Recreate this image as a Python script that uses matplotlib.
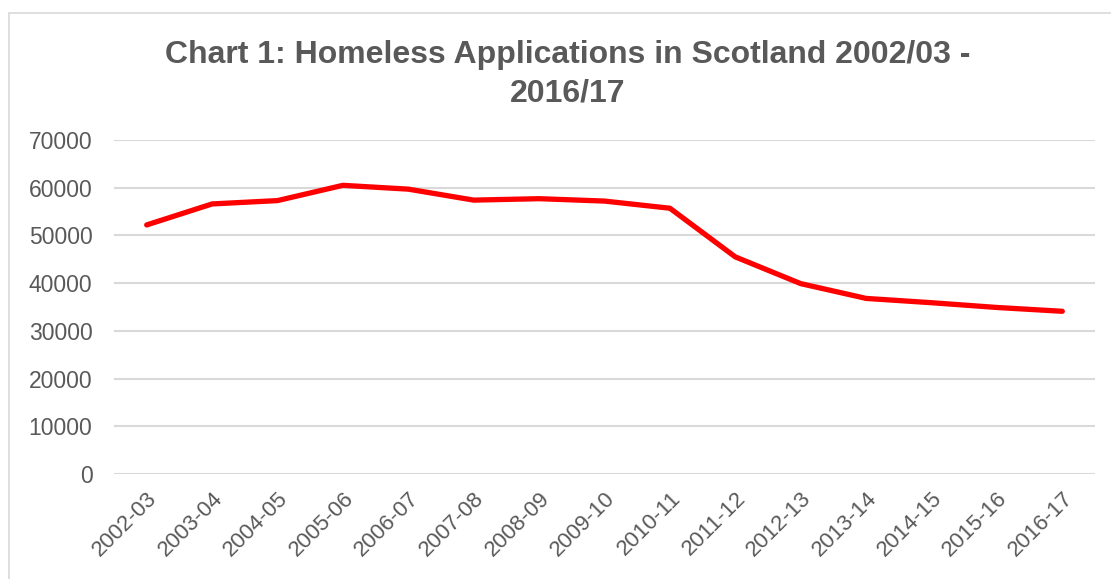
import matplotlib
matplotlib.use("Agg")
import matplotlib.pyplot as plt
from matplotlib.patches import Rectangle

years = ["2002-03", "2003-04", "2004-05", "2005-06", "2006-07", "2007-08", "2008-09",
         "2009-10", "2010-11", "2011-12", "2012-13", "2013-14", "2014-15", "2015-16", "2016-17"]
applications = [52200, 56600, 57300, 60500, 59700, 57400, 57700, 57200, 55700,
                45500, 39900, 36800, 35900, 34900, 34100]
yticks = [0, 10000, 20000, 30000, 40000, 50000, 60000, 70000]
title_lines = ["Chart 1: Homeless Applications in Scotland 2002/03 -", "2016/17"]

plt.rcParams['font.family'] = ['Liberation Sans', 'DejaVu Sans']
W, H = 1111, 579
fig = plt.figure(figsize=(W / 100, H / 100), dpi=100)
fig.patch.set_facecolor('white')

# chart frame
fig.patches.append(Rectangle((9 / W, -0.1), 1.2, (H - 13) / H + 0.1, transform=fig.transFigure,
                             fill=False, edgecolor='#d9d9d9', linewidth=1.2))

left, right = 114 / W, 1095 / W
top, bottom = 1 - 140 / H, 1 - 474 / H
ax = fig.add_axes([left, bottom, right - left, top - bottom])

x = list(range(len(years)))
ax.plot(x, applications, color='#ff0000', linewidth=3.8, solid_capstyle='round',
        solid_joinstyle='round', zorder=3)

ax.set_xlim(-0.5, len(years) - 0.5)
ax.set_ylim(0, 70000)
ax.set_yticks(yticks)
ax.set_yticklabels([str(v) for v in yticks])
ax.set_xticks(x)
ax.set_xticklabels(years, rotation=45, ha='right', va='top', rotation_mode='anchor')
ax.tick_params(axis='both', length=0, labelsize=16.5, labelcolor='#595959')
ax.tick_params(axis='x', labelsize=16)
ax.tick_params(axis='y', pad=15.5)
ax.tick_params(axis='x', pad=10)
ax.grid(axis='y', color='#d9d9d9', linewidth=1.5)
ax.set_axisbelow(True)
for s in ax.spines.values():
    s.set_visible(False)

for line, base in zip(title_lines, [63, 102]):
    fig.text(0.511, 1 - base / H, line, ha='center', va='baseline', fontsize=23,
             fontweight='bold', color='#595959')

fig.savefig('out.png', dpi=100, facecolor='white')
